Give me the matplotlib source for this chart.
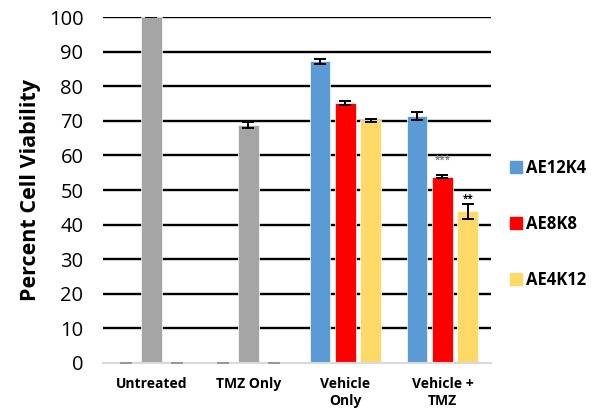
import matplotlib.pyplot as plt
import numpy as np

plt.rcParams['font.family'] = ['Open Sans', 'DejaVu Sans']

groups = ['Untreated', 'TMZ Only', 'Vehicle\nOnly', 'Vehicle +\nTMZ']
series = ['AE12K4', 'AE8K8', 'AE4K12']
ae12k4 = [0, 0, 87.2, 71.5]
ae8k8 = [100, 68.8, 75.2, 53.9]
ae4k12 = [0, 0, 70.2, 43.8]
err12k4 = [0, 0, 0.7, 1.2]
err8k8 = [0, 1.0, 0.5, 0.5]
err4k12 = [0, 0, 0.4, 2.2]
stars = [('', '', ''), ('', '', ''), ('', '', ''), ('', '***', '**')]

colors = ['#5b9bd5', '#ff0000', '#ffd966']
control_color = '#a5a5a5'

fig = plt.figure(figsize=(5.95, 4.17), dpi=100)
ax = fig.add_axes([0.173, 0.1295, 0.652, 0.8295])

x = np.arange(len(groups))
width = 0.21
offsets = [-0.26, 0, 0.26]
values = [ae12k4, ae8k8, ae4k12]
errors = [err12k4, err8k8, err4k12]

ax.set_ylim(0, 100)
ax.set_xlim(-0.5, 3.5)
ax.set_yticks(range(0, 101, 10))
for yv in range(10, 101, 10):
    ax.axhline(yv, color='black', lw=1.7, zorder=1)

for s in range(3):
    for g in range(len(groups)):
        v = values[s][g]
        c = colors[s] if g >= 2 else control_color
        if v == 0:
            # empty slots still show a thin grey stub on the axis
            ax.bar(x[g] + offsets[s], 0, width * 0.6, edgecolor='#8c8c8c', lw=1.2,
                   zorder=4, clip_on=False)
            continue
        ax.bar(x[g] + offsets[s], v, width, color=c, edgecolor='white', lw=0.5, zorder=2)
        if errors[s][g] > 0 or g == 0:
            ax.errorbar(x[g] + offsets[s], v, yerr=errors[s][g], fmt='none', ecolor='black',
                        elinewidth=1.4, capsize=4, capthick=1.4, zorder=3)
        mark = stars[g][s]
        if mark:
            top = v + errors[s][g]
            if mark == '***':
                ax.text(x[g] + offsets[s], top + 2.5, mark, ha='center', va='bottom',
                        fontsize=7, color='#7f7f7f', fontweight='bold')
            else:
                ax.text(x[g] + offsets[s], top - 0.2, mark, ha='center', va='bottom',
                        fontsize=7, color='black', fontweight='bold')

for side in ['left', 'right', 'top']:
    ax.spines[side].set_visible(False)
ax.spines['bottom'].set_color('#d9d9d9')
ax.spines['bottom'].set_linewidth(1.5)
ax.tick_params(axis='y', length=0, labelsize=14.5, pad=14)
ax.tick_params(axis='x', length=0, pad=10)
ax.set_xticks(x)
ax.set_xticklabels(groups, fontsize=10, fontweight='bold', linespacing=1.3)
ax.set_ylabel('Percent Cell Viability', fontsize=15.5, fontweight='bold', labelpad=6)

handles = [plt.Line2D([], [], marker='s', ls='', color=c, markersize=8) for c in colors]
fig.legend(handles, series, loc='center left', bbox_to_anchor=(0.83, 0.463), frameon=False,
           prop={'weight': 'bold', 'size': 12}, labelspacing=2.3, handletextpad=0.25,
           handlelength=0.8)

fig.savefig('out.png', dpi=100)
